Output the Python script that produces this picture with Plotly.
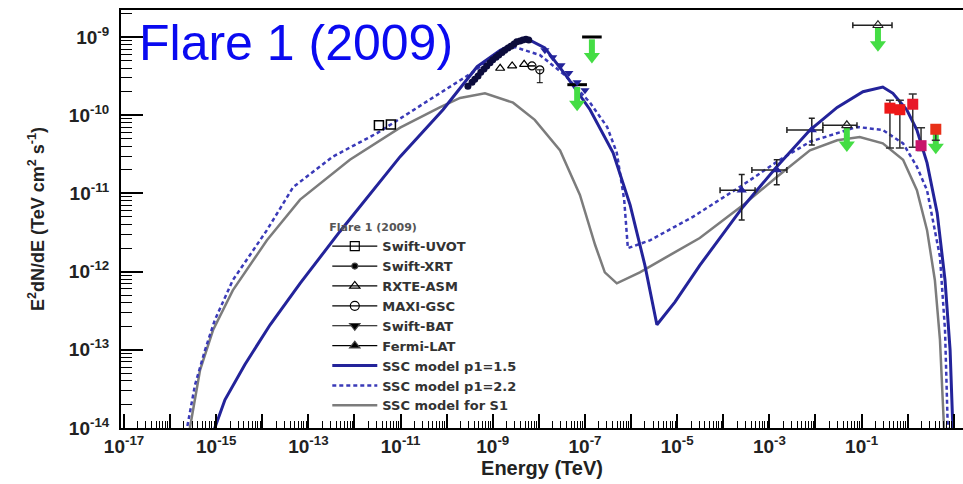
import numpy as np
import plotly.graph_objects as go

# ---- SSC model curves: log10 E (TeV), log10 E^2dN/dE (TeV cm^-2 s^-1) ----
p15_log_e = [-15.09, -15.03, -14.81, -14.38, -13.83, -13.18, -12.32, -11.01, -10.08, -9.34,
             -8.84, -8.30, -7.87, -7.39, -6.89, -6.39, -6.02, -5.70, -5.44, -5.05,
             -4.51, -3.57, -2.84, -2.12, -1.53, -0.97, -0.54, -0.32, -0.02, 0.20,
             0.42, 0.64, 0.81, 0.92, 0.98, 1.02]
p15_log_f = [-14.15, -14.00, -13.64, -13.19, -12.68, -12.15, -11.49, -10.53, -9.93, -9.38,
             -9.17, -9.01, -9.14, -9.51, -9.93, -10.48, -11.15, -11.92, -12.68, -12.39,
             -11.92, -11.17, -10.66, -10.19, -9.90, -9.70, -9.64, -9.72, -9.93, -10.19,
             -10.61, -11.25, -12.11, -13.00, -14.00, -14.15]

p22_log_e = [-15.68, -15.63, -15.46, -15.24, -15.03, -14.64, -13.90, -13.33, -12.47, -11.51,
             -10.30, -9.43, -8.95, -8.52, -7.98, -7.43, -6.89, -6.52, -6.31, -6.15,
             -6.07, -5.59, -4.66, -3.57, -2.77, -2.12, -1.10, -0.54, -0.10, 0.20,
             0.42, 0.55, 0.70, 0.81, 0.87, 0.90]
p22_log_f = [-14.15, -14.00, -13.45, -13.00, -12.62, -12.11, -11.47, -10.92, -10.53, -10.23,
             -9.77, -9.45, -9.23, -9.13, -9.23, -9.49, -9.84, -10.15, -10.48, -11.08,
             -11.70, -11.60, -11.30, -10.89, -10.57, -10.34, -10.15, -10.19, -10.36, -10.66,
             -10.96, -11.34, -11.81, -12.75, -14.00, -14.15]

s1_log_e = [-15.61, -15.57, -15.35, -15.07, -14.64, -13.90, -13.18, -12.10, -11.01, -10.15,
            -9.71, -9.17, -8.56, -8.09, -7.54, -7.11, -6.78, -6.57, -6.31, -5.81,
            -5.16, -4.51, -3.57, -2.84, -2.12, -1.53, -1.04, -0.54, -0.10, 0.20,
            0.42, 0.59, 0.70, 0.77, 0.80]
s1_log_f = [-14.15, -14.00, -13.26, -12.75, -12.24, -11.60, -11.08, -10.57, -10.16, -9.90,
            -9.78, -9.72, -9.84, -10.06, -10.45, -11.02, -11.66, -12.01, -12.15, -12.01,
            -11.79, -11.57, -11.15, -10.79, -10.45, -10.32, -10.28, -10.36, -10.57, -10.96,
            -11.47, -12.11, -12.87, -14.00, -14.15]

# ---- data points ----
uvot_log_e = [-11.47, -11.21]
uvot_log_f = [-10.13, -10.12]

xrt_log_e = [-9.54, -9.45, -9.39, -9.32, -9.26, -9.19, -9.13, -9.06, -9.00, -8.93, -8.87,
             -8.80, -8.74, -8.67, -8.61, -8.54, -8.48, -8.41, -8.35, -8.28, -8.22]
xrt_log_f = [-9.63, -9.58, -9.54, -9.50, -9.45, -9.41, -9.37, -9.33, -9.29, -9.26, -9.23,
             -9.20, -9.17, -9.14, -9.12, -9.09, -9.06, -9.05, -9.04, -9.03, -9.04]

asm_log_e = [-8.84, -8.58, -8.32]
asm_log_f = [-9.40, -9.37, -9.35]

maxi_log_e = [-8.15, -7.98]
maxi_log_f = [-9.37, -9.42]

bat_log_e = [-7.87, -7.70, -7.52, -7.35, -7.17, -7.00]
bat_log_f = [-9.17, -9.26, -9.36, -9.46, -9.58, -9.68]

lat_log_e = [-3.60, -2.84, -2.08]
lat_log_f = [-10.96, -10.70, -10.19]
lat_log_e_lo = [-4.07, -3.38, -2.62]
lat_log_e_hi = [-3.31, -2.62, -1.84]
lat_log_f_lo = [-11.34, -10.89, -10.38]
lat_log_f_hi = [-10.76, -10.57, -10.04]

# Fermi upper limits (open triangles with energy bins)
latul_log_e = [-1.32, -0.645]
latul_log_f = [-10.13, -8.85]
latul_log_e_lo = [-1.84, -1.19]
latul_log_e_hi = [-1.10, -0.34]

# hard X-ray upper limit caps
cap_log_e = [-7.17, -6.85]
cap_log_f = [-9.61, -9.00]

# all upper-limit arrows
ul_log_e = [-7.17, -6.85, -1.32, -0.645, 0.61]
ul_log_f = [-9.61, -9.00, -10.13, -8.85, -10.16]

# VHE points
vhe_log_e = [-0.385, -0.17, 0.11, 0.29, 0.61]
vhe_log_f = [-9.91, -9.93, -9.86, -10.39, -10.18]
vhe_log_f_lo = [-10.42, -10.42, -10.41, -10.45, -10.32]
vhe_log_f_hi = [-9.81, -9.81, -9.73, -10.16, -10.13]


def p10(a):
    return 10.0 ** np.array(a)


NAVY = "#23239a"
DARK = "#0c0c3c"
GREEN = "#44dd44"

fig = go.Figure()

# model curves
fig.add_trace(go.Scatter(x=p10(s1_log_e), y=p10(s1_log_f), mode="lines", name="<b>SSC model for S1</b>",
                         line=dict(color="#7c7c7c", width=2.5), legendrank=9))
fig.add_trace(go.Scatter(x=p10(p22_log_e), y=p10(p22_log_f), mode="lines", name="<b>SSC model p1=2.2</b>",
                         line=dict(color="#3a3ab8", width=2.5, dash="4px,3px"), legendrank=8))
fig.add_trace(go.Scatter(x=p10(p15_log_e), y=p10(p15_log_f), mode="lines", name="<b>SSC model p1=1.5</b>",
                         line=dict(color=NAVY, width=3), legendrank=7))

# upper limit arrows (green)
arr_x, arr_y, head_x, head_y = [], [], [], []
for le, lf in zip(ul_log_e, ul_log_f):
    arr_x += [10 ** le, 10 ** le, None]
    arr_y += [10 ** (lf - 0.03), 10 ** (lf - 0.22), None]
    head_x.append(10 ** le)
    head_y.append(10 ** (lf - 0.25))
fig.add_trace(go.Scatter(x=arr_x, y=arr_y, mode="lines", line=dict(color=GREEN, width=6),
                         showlegend=False, hoverinfo="skip"))
fig.add_trace(go.Scatter(x=head_x, y=head_y, mode="markers", showlegend=False, hoverinfo="skip",
                         marker=dict(symbol="triangle-down", size=14, color=GREEN)))

# caps
fig.add_trace(go.Scatter(x=p10(cap_log_e), y=p10(cap_log_f), mode="markers", showlegend=False,
                         marker=dict(symbol="line-ew", size=14, line=dict(color="black", width=3))))

# UVOT
fig.add_trace(go.Scatter(x=p10(uvot_log_e), y=p10(uvot_log_f), mode="markers", showlegend=False,
                         marker=dict(symbol="square-open", size=9, color="black", line=dict(width=1.5))))
# XRT
fig.add_trace(go.Scatter(x=p10(xrt_log_e), y=p10(xrt_log_f), mode="markers", showlegend=False,
                         marker=dict(symbol="circle", size=7, color=DARK)))
# ASM
fig.add_trace(go.Scatter(x=p10(asm_log_e), y=p10(asm_log_f), mode="markers", showlegend=False,
                         marker=dict(symbol="triangle-up-open", size=8, color="black", line=dict(width=1.2))))
# MAXI
fig.add_trace(go.Scatter(x=p10(maxi_log_e), y=p10(maxi_log_f), mode="markers", showlegend=False,
                         marker=dict(symbol="circle-open", size=8, color="black", line=dict(width=1.2)),
                         error_y=dict(type="data", array=[0, 0], arrayminus=[0, 1.2e-10],
                                      color="black", thickness=1, width=3)))
# BAT
fig.add_trace(go.Scatter(x=p10(bat_log_e), y=p10(bat_log_f), mode="markers", showlegend=False,
                         marker=dict(symbol="triangle-down", size=8, color=NAVY)))

# Fermi-LAT
lx, lf = p10(lat_log_e), p10(lat_log_f)
fig.add_trace(go.Scatter(
    x=lx, y=lf, mode="markers", showlegend=False,
    marker=dict(symbol="triangle-up", size=9, color=NAVY),
    error_x=dict(type="data", array=p10(lat_log_e_hi) - lx, arrayminus=lx - p10(lat_log_e_lo),
                 color="#222222", thickness=1.5, width=3),
    error_y=dict(type="data", array=p10(lat_log_f_hi) - lf, arrayminus=lf - p10(lat_log_f_lo),
                 color="#222222", thickness=1.5, width=3)))
ux = p10(latul_log_e)
fig.add_trace(go.Scatter(
    x=ux, y=p10(latul_log_f), mode="markers", showlegend=False,
    marker=dict(symbol="triangle-up-open", size=9, color="#222222", line=dict(width=1.2)),
    error_x=dict(type="data", array=p10(latul_log_e_hi) - ux, arrayminus=ux - p10(latul_log_e_lo),
                 color="#222222", thickness=1.5, width=3)))

# VHE (red)
vf = p10(vhe_log_f)
fig.add_trace(go.Scatter(
    x=p10(vhe_log_e), y=vf, mode="markers", showlegend=False,
    marker=dict(symbol="square", size=11, color=["#ee1818", "#ee1818", "#e8182a", "#c8156a", "#e83018"]),
    error_y=dict(type="data", array=p10(vhe_log_f_hi) - vf, arrayminus=vf - p10(vhe_log_f_lo),
                 color="#333333", thickness=1.5, width=4)))

# legend-only entries for data sets
legend_items = [("Swift-UVOT", "square-open", 9), ("Swift-XRT", "circle", 6),
                ("RXTE-ASM", "triangle-up-open", 9), ("MAXI-GSC", "circle-open", 9),
                ("Swift-BAT", "triangle-down", 9), ("Fermi-LAT", "triangle-up", 9)]
for i, (name, sym, sz) in enumerate(legend_items):
    fig.add_trace(go.Scatter(x=[None], y=[None], mode="lines+markers", name=f"<b>{name}</b>",
                             legendrank=i + 1, line=dict(color="black", width=1.2),
                             marker=dict(symbol=sym, size=sz, color="black", line=dict(width=1.2))))

xt_vals = [10.0 ** k for k in range(-17, 2)]
xt_text = [("<b>10</b>" if k == 1 else f"<b>10<sup>{k}</sup></b>") if k % 2 else "" for k in range(-17, 2)]
yt_vals = [10.0 ** k for k in range(-14, -8)]
yt_text = [f"<b>10<sup>{k}</sup></b>" for k in range(-14, -8)]

axis_font = dict(family="Liberation Sans", size=19, color="#222222")

fig.update_xaxes(type="log", range=[-17.065, 1.2], tickmode="array", tickvals=xt_vals, ticktext=xt_text,
                 ticks="inside", ticklen=14, tickwidth=1.5, tickcolor="black",
                 minor=dict(ticks="inside", ticklen=7, dtick="D1", tickcolor="black", tickwidth=1, showgrid=False),
                 showline=True, linecolor="black", linewidth=2, mirror=True,
                 showgrid=False, zeroline=False, tickfont=axis_font, automargin=False,
                 title=dict(text="<b>Energy (TeV)</b>", font=dict(family="Liberation Sans", size=20, color="#222222"),
                            standoff=2))
fig.update_yaxes(type="log", range=[-14, -8.655], tickmode="array", tickvals=yt_vals, ticktext=yt_text,
                 ticks="inside", ticklen=22, tickwidth=1.5, tickcolor="black",
                 minor=dict(ticks="inside", ticklen=11, dtick="D1", tickcolor="black", tickwidth=1, showgrid=False),
                 showline=True, linecolor="black", linewidth=2, mirror=False,
                 showgrid=False, zeroline=False, tickfont=axis_font, ticklabelstandoff=6, automargin=False,
                 title=dict(text="<b>E<sup>2</sup>dN/dE (TeV cm<sup>2</sup> s<sup>-1</sup>)</b>",
                            font=dict(family="Liberation Sans", size=18, color="#222222"), standoff=20))

fig.add_annotation(text="Flare 1 (2009)", xref="paper", yref="paper", x=0.019, y=0.92,
                   xanchor="left", yanchor="middle", showarrow=False,
                   font=dict(family="Liberation Sans", size=50, color="#0a0af0"))

fig.update_layout(
    width=963, height=484,
    margin=dict(l=121, r=0, t=10, b=56, autoexpand=False),
    plot_bgcolor="white", paper_bgcolor="white",
    showlegend=True,
    legend=dict(x=0.245, y=0.505, xanchor="left", yanchor="top", bgcolor="rgba(0,0,0,0)",
                font=dict(family="DejaVu Sans", size=13, color="#333333"),
                title=dict(text="<b>Flare 1 (2009)</b>", font=dict(family="DejaVu Sans", size=11, color="#555555")),
                itemwidth=45, tracegroupgap=0),
)

fig.write_html("out.html", config={"displayModeBar": False},
               post_script="document.body.style.margin='0';document.body.style.overflow='hidden';")
